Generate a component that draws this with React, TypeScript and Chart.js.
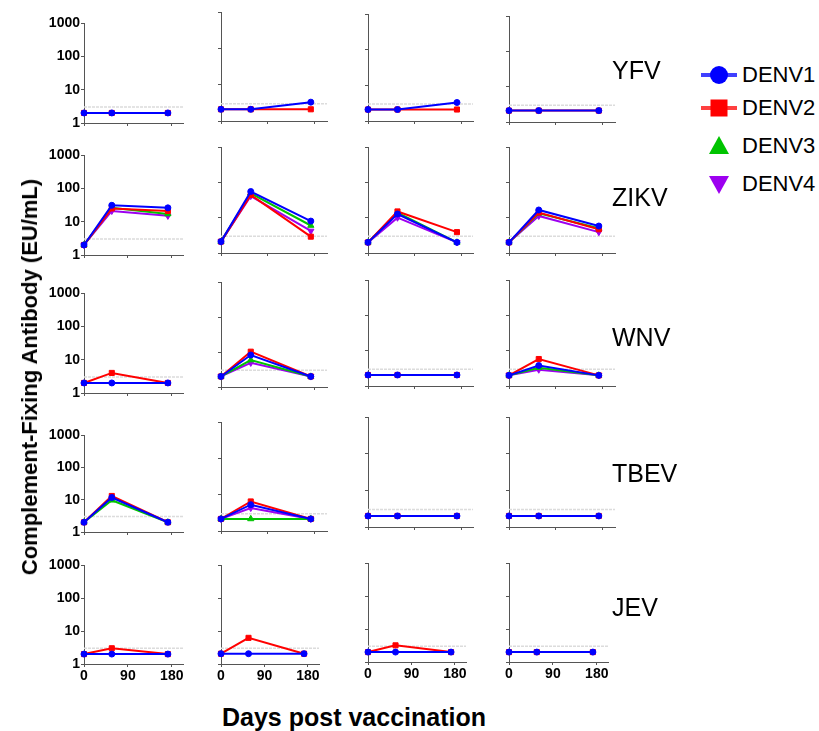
import React, { useEffect, useRef } from "react";
import { Chart, registerables } from "chart.js";

Chart.register(...registerables);

// ---------- data ----------
const VIRUSES = ["YFV", "ZIKV", "WNV", "TBEV", "JEV"];
const SERIES = ["DENV1", "DENV2", "DENV3", "DENV4"];
const DAYS = [0, 57, 172];
const X_TICKS = [0, 90, 180];
const Y_TICKS = [1, 10, 100, 1000];
const THRESHOLD = 3;

// each array: one entry per panel column (4 groups), values at DAYS
const YFV_DENV1 = [[2, 2, 2], [2.1, 2.1, 3.3], [2.1, 2.1, 3.3], [2.1, 2.1, 2.1]];
const YFV_DENV2 = [[2, 2, 2], [2.1, 2.1, 2.1], [2.1, 2.1, 2.1], [2.1, 2.1, 2.1]];
const YFV_DENV3 = [null, null, null, null];
const YFV_DENV4 = [null, null, null, null];

const ZIKV_DENV1 = [[2, 31, 26], [2.1, 55, 8], [2, 12.7, 2], [2, 16.5, 5.8]];
const ZIKV_DENV2 = [[2, 25, 21], [2.1, 44, 2.9], [2, 15, 3.9], [2, 14, 4.7]];
const ZIKV_DENV3 = [[2, 26, 17], [2.1, 49, 6], [2, 13.8, 2], [2, 13.3, 5]];
const ZIKV_DENV4 = [[2, 21, 15], [2.1, 41, 4.2], [2, 10, 2], [2, 11.2, 3.9]];

const WNV_DENV1 = [[2, 2, 2], [2, 8.2, 2], [2.05, 2.05, 2.05], [2, 3.8, 2]];
const WNV_DENV2 = [[2, 4, 2], [2, 10.2, 2], [2.05, 2.05, 2.05], [2, 5.8, 2]];
const WNV_DENV3 = [null, [2, 5.9, 2], null, [2, 3.3, 2]];
const WNV_DENV4 = [null, [2, 4.9, 2], null, [2, 2.9, 2]];

const TBEV_DENV1 = [[2, 11.7, 2], [2.15, 5.3, 2.15], [2, 2, 2], [2, 2, 2]];
const TBEV_DENV2 = [[2, 13, 2], [2.15, 6.5, 2.15], [2, 2, 2], [2, 2, 2]];
const TBEV_DENV3 = [[2, 9.6, 2], [2.15, 2.15, 2.15], null, null];
const TBEV_DENV4 = [null, [2.15, 4.3, 2.15], null, null];

const JEV_DENV1 = [[2, 2, 2], [2.05, 2.05, 2.05], [2, 2, 2], [2, 2, 2]];
const JEV_DENV2 = [[2, 3, 2], [2.05, 6.2, 2.05], [2, 3.2, 2], [2, 2, 2]];
const JEV_DENV3 = [null, null, null, null];
const JEV_DENV4 = [null, null, null, null];

const VIRUS_DATA = [
  [YFV_DENV1, YFV_DENV2, YFV_DENV3, YFV_DENV4],
  [ZIKV_DENV1, ZIKV_DENV2, ZIKV_DENV3, ZIKV_DENV4],
  [WNV_DENV1, WNV_DENV2, WNV_DENV3, WNV_DENV4],
  [TBEV_DENV1, TBEV_DENV2, TBEV_DENV3, TBEV_DENV4],
  [JEV_DENV1, JEV_DENV2, JEV_DENV3, JEV_DENV4],
];

// ---------- styles / layout ----------
const COLORS = ["#0000ff", "#ff0000", "#00c400", "#9d00f0"];
const POINT_STYLES = ["circle", "rect", "triangle", "triangle"];
const POINT_ROT = [0, 0, 0, 180];
const POINT_R = [3, 3.6, 3.6, 3.6];
const FONT = "'Liberation Sans', Arial, Helvetica, sans-serif";

const XMAX = 203;
const COL_LEFT = [84, 221, 368, 509];
const COL_W = [99, 106, 105, 106];
const COL_W_LAST = [99, 98, 98, 99];
const PANEL_Y = [
  [[23, 123], [12, 121], [14, 121], [16, 122]],
  [[155, 255], [147, 253], [147, 253], [147, 253]],
  [[293, 393], [282, 387], [280, 386], [280, 386]],
  [[435, 532], [422, 531], [417, 527], [417, 527]],
  [[565, 664], [565, 664], [563, 662], [563, 662]],
];
const ROW_LABEL_Y = [70, 197, 337, 473, 607];
const LEGEND_Y = [75, 108, 146, 184];

const PADL = 45;
const PADT = 12;
const PADR = 20;
const PADB = 26;
const AXIS_COLOR = "#555555";

function Panel({ row, col }: { row: number; col: number }) {
  const ref = useRef<HTMLCanvasElement | null>(null);
  const [top, bottom] = PANEL_Y[row][col];
  const width = row === 4 ? COL_W_LAST[col] : COL_W[col];
  const height = bottom - top;
  const W = PADL + width + PADR;
  const H = PADT + height + PADB;
  const showY = col === 0;
  const showX = row === 4;

  useEffect(() => {
    if (!ref.current) return;
    const seriesSets: any[] = [];
    SERIES.forEach((name, si) => {
      const vals = VIRUS_DATA[row][si][col];
      if (!vals) return;
      seriesSets.push({
        label: name,
        data: DAYS.map((d, i) => ({ x: d, y: vals[i] })),
        borderColor: COLORS[si],
        backgroundColor: COLORS[si],
        borderWidth: 2,
        pointStyle: POINT_STYLES[si],
        rotation: POINT_ROT[si],
        pointRadius: POINT_R[si],
        pointBorderWidth: 1,
        pointBackgroundColor: COLORS[si],
        pointBorderColor: COLORS[si],
        tension: 0,
        clip: false,
      });
    });
    seriesSets.push({
      label: "threshold",
      data: [
        { x: 0, y: THRESHOLD },
        { x: XMAX, y: THRESHOLD },
      ],
      borderColor: "#dcdcdc",
      borderWidth: 1.5,
      borderDash: [3, 1],
      pointRadius: 0,
      clip: false,
    });

    const tickFont = { family: FONT, size: 14, weight: "bold" as const };
    const chart = new Chart(ref.current, {
      type: "line",
      data: { datasets: seriesSets },
      options: {
        animation: false,
        responsive: false,
        maintainAspectRatio: false,
        events: [],
        layout: { padding: { top: PADT, right: PADR, left: 0, bottom: 0 } },
        plugins: { legend: { display: false }, tooltip: { enabled: false } },
        scales: {
          x: {
            type: "linear",
            min: 0,
            max: XMAX,
            afterBuildTicks: (s: any) => {
              s.ticks = X_TICKS.map((v) => ({ value: v }));
            },
            afterFit: (s: any) => {
              s.height = PADB;
            },
            ticks: {
              display: showX,
              font: tickFont,
              color: "#000",
              padding: 1,
              maxRotation: 0,
              autoSkip: false,
              callback: (v: any) => String(v),
            },
            grid: {
              drawOnChartArea: false,
              drawTicks: true,
              tickLength: 3,
              color: AXIS_COLOR,
            },
            border: { display: true, color: AXIS_COLOR, width: 1 },
          },
          y: {
            type: "logarithmic",
            min: 1,
            max: 1000,
            afterBuildTicks: (s: any) => {
              s.ticks = Y_TICKS.map((v) => ({ value: v }));
            },
            afterFit: (s: any) => {
              s.width = PADL;
            },
            ticks: {
              display: showY,
              font: tickFont,
              color: "#000",
              padding: 1,
              autoSkip: false,
              callback: (v: any) => String(v),
            },
            grid: {
              drawOnChartArea: false,
              drawTicks: true,
              tickLength: 3,
              color: AXIS_COLOR,
            },
            border: { display: true, color: AXIS_COLOR, width: 1 },
          },
        },
      } as any,
    });
    return () => chart.destroy();
  }, [row, col]);

  return (
    <div
      style={{
        position: "absolute",
        left: COL_LEFT[col] - PADL,
        top: top - PADT,
        width: W,
        height: H,
      }}
    >
      <canvas ref={ref} width={W} height={H} style={{ width: W, height: H }} />
    </div>
  );
}

function LegendMarker({ i }: { i: number }) {
  const c = COLORS[i];
  const cx = 19;
  const cy = 12;
  let shape: any = null;
  if (i === 0) shape = <circle cx={cx} cy={cy} r={9} fill={c} />;
  else if (i === 1) shape = <rect x={cx - 8.5} y={cy - 8.5} width={17} height={17} fill={c} />;
  else if (i === 2)
    shape = <polygon points={`${cx},${cy - 10} ${cx + 10},${cy + 8} ${cx - 10},${cy + 8}`} fill={c} />;
  else
    shape = <polygon points={`${cx},${cy + 10} ${cx + 10},${cy - 8} ${cx - 10},${cy - 8}`} fill={c} />;
  return (
    <svg width={38} height={24} style={{ position: "absolute", left: 700, top: LEGEND_Y[i] - 12 }}>
      {i < 2 && <line x1={1} y1={cy} x2={37} y2={cy} stroke={c} strokeOpacity={0.75} strokeWidth={4} />}
      {shape}
    </svg>
  );
}

export default function App() {
  const panels: any[] = [];
  for (let r = 0; r < VIRUSES.length; r++) {
    for (let c = 0; c < 4; c++) {
      panels.push(<Panel key={`${r}-${c}`} row={r} col={c} />);
    }
  }
  return (
    <div
      style={{
        position: "absolute",
        left: 0,
        top: 0,
        width: 819,
        height: 731,
        background: "#fff",
        overflow: "hidden",
        fontFamily: FONT,
      }}
    >
      {panels}
      {VIRUSES.map((v, i) => (
        <div
          key={v}
          style={{
            position: "absolute",
            left: 612,
            top: ROW_LABEL_Y[i],
            transform: "translateY(-50%)",
            fontSize: 25,
            color: "#000",
            lineHeight: 1,
            whiteSpace: "nowrap",
          }}
        >
          {v}
        </div>
      ))}
      {SERIES.map((s, i) => (
        <React.Fragment key={s}>
          <LegendMarker i={i} />
          <div
            style={{
              position: "absolute",
              left: 742,
              top: LEGEND_Y[i],
              transform: "translateY(-50%)",
              fontSize: 22,
              lineHeight: 1,
              color: "#000",
              whiteSpace: "nowrap",
            }}
          >
            {s}
          </div>
        </React.Fragment>
      ))}
      <div
        style={{
          position: "absolute",
          left: 30,
          top: 377,
          transform: "translate(-50%, -50%) rotate(-90deg)",
          fontSize: 22,
          fontWeight: "bold",
          whiteSpace: "nowrap",
          lineHeight: 1,
          color: "#000",
        }}
      >
        Complement-Fixing Antibody (EU/mL)
      </div>
      <div
        style={{
          position: "absolute",
          left: 354,
          top: 717,
          transform: "translate(-50%, -50%)",
          fontSize: 25,
          fontWeight: "bold",
          whiteSpace: "nowrap",
          lineHeight: 1,
          color: "#000",
        }}
      >
        Days post vaccination
      </div>
    </div>
  );
}
